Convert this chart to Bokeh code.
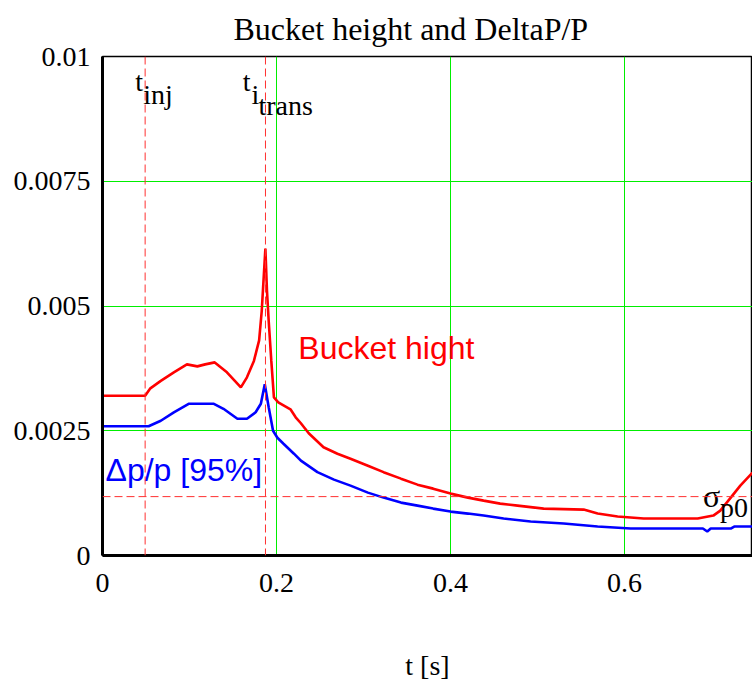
from bokeh.plotting import figure
from bokeh.models import FixedTicker, Span, Range1d
from bokeh.core.properties import value
from bokeh.embed import file_html
from bokeh.resources import INLINE

# ---- data ----
t_bucket = [0.000, 0.049, 0.055, 0.067, 0.082, 0.097, 0.109, 0.118, 0.129, 0.143,
            0.159, 0.166, 0.174, 0.180, 0.183, 0.185, 0.1872, 0.189, 0.191, 0.194,
            0.197, 0.202, 0.216, 0.222, 0.228, 0.237, 0.254, 0.270, 0.285, 0.305,
            0.323, 0.343, 0.362, 0.380, 0.400, 0.420, 0.438, 0.457, 0.477, 0.507,
            0.553, 0.569, 0.592, 0.622, 0.684, 0.702, 0.710, 0.722, 0.733, 0.747]
bucket_height = [0.00320, 0.00320, 0.00335, 0.00350, 0.00367, 0.00383, 0.00379, 0.00383, 0.00387, 0.00367,
                 0.00337, 0.00357, 0.00390, 0.00431, 0.00490, 0.00550, 0.00615, 0.00531, 0.00470, 0.00390,
                 0.00317, 0.00307, 0.00293, 0.00277, 0.00265, 0.00245, 0.00217, 0.00204, 0.00194, 0.00180,
                 0.00167, 0.00154, 0.00142, 0.00134, 0.00124, 0.00116, 0.00110, 0.00104, 0.00100, 0.00094,
                 0.00092, 0.00084, 0.00078, 0.00074, 0.00074, 0.00080, 0.00090, 0.00116, 0.00140, 0.00166]

t_dpp = [0.000, 0.053, 0.067, 0.082, 0.099, 0.128, 0.139, 0.155, 0.166, 0.176,
         0.182, 0.1865, 0.191, 0.196, 0.201, 0.208, 0.220, 0.228, 0.247, 0.266,
         0.285, 0.305, 0.323, 0.343, 0.362, 0.380, 0.400, 0.420, 0.438, 0.461,
         0.492, 0.530, 0.569, 0.607, 0.690, 0.695, 0.699, 0.722, 0.726, 0.747]
dp_over_p = [0.00259, 0.00259, 0.00270, 0.00287, 0.00304, 0.00304, 0.00294, 0.00274, 0.00274, 0.00287,
             0.00304, 0.00343, 0.00297, 0.00250, 0.00236, 0.00224, 0.00204, 0.00190, 0.00167, 0.00152,
             0.00140, 0.00126, 0.00116, 0.00106, 0.00100, 0.00094, 0.00088, 0.00084, 0.00080, 0.00074,
             0.00068, 0.00064, 0.00058, 0.00054, 0.00054, 0.00048, 0.00054, 0.00054, 0.00058, 0.00058]

x_ticks = [0, 0.2, 0.4, 0.6]
x_tick_labels = ["0", "0.2", "0.4", "0.6"]
y_ticks = [0, 0.0025, 0.005, 0.0075, 0.01]
y_tick_labels = ["0", "0.0025", "0.005", "0.0075", "0.01"]

t_inj = 0.049
t_i_trans = 0.1873
sigma_p0 = 0.00118

SERIF = "Liberation Serif"
SANS = "Liberation Sans"

p = figure(width=752, height=686, output_backend="svg", toolbar_location=None,
           x_range=Range1d(0, 0.747), y_range=Range1d(0, 0.01),
           min_border_left=102, min_border_right=0, min_border_top=56, min_border_bottom=131,
           title="Bucket height and DeltaP/P")
p.background_fill_color = "white"
p.border_fill_color = "white"
p.outline_line_color = "black"
p.outline_line_width = 1.5

p.title.text_font = SERIF
p.title.text_font_size = "32px"
p.title.text_font_style = "normal"
p.title.text_color = "black"
p.title.vertical_align = "top"
p.title.align = "left"
p.title.offset = 131
p.title.standoff = 16

for ax, ticks, labels in ((p.xaxis[0], x_ticks, x_tick_labels), (p.yaxis[0], y_ticks, y_tick_labels)):
    ax.ticker = FixedTicker(ticks=ticks)
    ax.major_label_overrides = {t: l for t, l in zip(ticks, labels)}
    ax.major_label_text_font = SERIF
    ax.major_label_text_font_size = "28px"
    ax.major_label_text_color = "black"
    ax.major_tick_line_color = None
    ax.minor_tick_line_color = None
    ax.axis_line_color = "black"
    ax.axis_line_width = 3

p.xaxis.major_label_standoff = 12
p.yaxis.major_label_standoff = 6
p.xaxis.axis_label = "t [s]"
p.xaxis.axis_label_text_font = SERIF
p.xaxis.axis_label_text_font_size = "28px"
p.xaxis.axis_label_text_font_style = "normal"
p.xaxis.axis_label_text_color = "black"
p.xaxis.axis_label_standoff = 55

p.xgrid.ticker = FixedTicker(ticks=x_ticks)
p.ygrid.ticker = FixedTicker(ticks=y_ticks)
for g in (p.xgrid[0], p.ygrid[0]):
    g.grid_line_color = "#00ee00"
    g.grid_line_width = 1

# reference markers
dash_kw = dict(line_color="#ff3030", line_alpha=1.0, line_width=1, line_dash="8 4")
p.add_layout(Span(location=t_inj, dimension="height", **dash_kw))
p.add_layout(Span(location=t_i_trans, dimension="height", **dash_kw))
p.add_layout(Span(location=sigma_p0, dimension="width", **dash_kw))

# curves
p.line(t_bucket, bucket_height, line_color="#ff0000", line_width=2.6)
p.line(t_dpp, dp_over_p, line_color="#0000ff", line_width=2.6)

# annotations
txt = dict(text_font=value(SERIF), text_font_size="28px", text_color="black",
           text_baseline="alphabetic")
label_y = 0.0095
p.text(x=[t_inj], y=[label_y], text=["t"], text_align="right", x_offset=-2, **txt)
p.text(x=[t_inj], y=[label_y], text=["inj"], text_align="left", x_offset=-2, y_offset=13, **txt)
p.text(x=[t_i_trans], y=[label_y], text=["t"], text_align="right", x_offset=-15, **txt)
p.text(x=[t_i_trans], y=[label_y], text=["i"], text_align="left", x_offset=-14, y_offset=13, **txt)
p.text(x=[t_i_trans], y=[label_y], text=["trans"], text_align="left", x_offset=-7, y_offset=24, **txt)

sigma_x = 0.69
p.text(x=[sigma_x], y=[sigma_p0], text=["σ"], text_align="left", y_offset=-1,
       text_font=value(SERIF), text_font_size="32px", text_color="black", text_baseline="alphabetic")
p.text(x=[sigma_x], y=[sigma_p0], text=["p0"], text_align="left", x_offset=17, y_offset=11, **txt)

p.text(x=[0.225], y=[0.00415], text=["Bucket hight"], text_font=value(SANS),
       text_font_size="32px", text_color="#ff0000", text_baseline="alphabetic")
p.text(x=[0.0035], y=[0.00172], text=["Δp/p [95%]"], text_font=value(SANS),
       text_font_size="32px", text_color="#0000ff", text_baseline="alphabetic")

open("out.html", "w").write(file_html(p, INLINE))
